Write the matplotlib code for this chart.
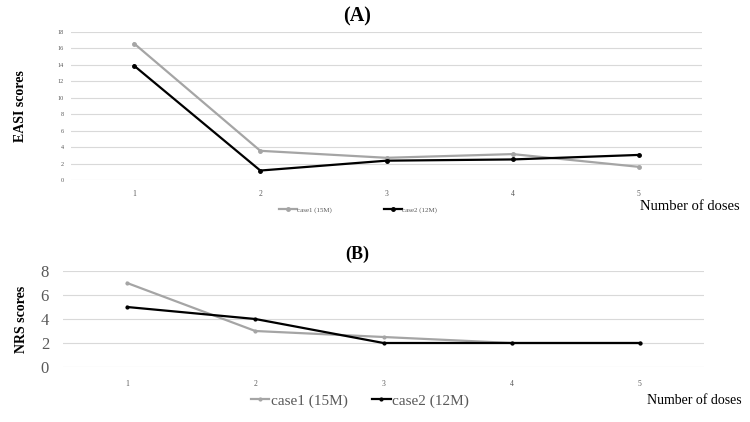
import matplotlib.pyplot as plt

plt.rcParams['font.family'] = ['Liberation Serif', 'DejaVu Serif']

doses = ["1", "2", "3", "4", "5"]
easi_case1 = [16.6, 3.55, 2.7, 3.15, 1.6]
easi_case2 = [13.9, 1.15, 2.35, 2.5, 3.05]
nrs_case1 = [7, 3, 2.5, 2, 2]
nrs_case2 = [5, 4, 2, 2, 2]
labels = ["case1 (15M)", "case2 (12M)"]

c_gray = '#A5A5A5'
c_black = '#000000'
c_grid = '#D9D9D9'
c_tick = '#595959'

fig = plt.figure(figsize=(7.5, 4.22), dpi=100)

def style(ax, ymax, ystep, ytick_size, ypad, xpad):
    x = range(len(doses))
    ax.set_xlim(-0.5, len(doses) - 0.5)
    ax.set_ylim(0, ymax)
    ax.set_yticks(range(0, ymax + 1, ystep))
    ax.set_xticks(list(x))
    ax.set_xticklabels(doses)
    ax.grid(axis='y', color=c_grid, linewidth=0.8)
    ax.set_axisbelow(True)
    for s in ax.spines.values():
        s.set_visible(False)
    ax.tick_params(axis='both', length=0, colors=c_tick)
    ax.tick_params(axis='y', labelsize=ytick_size, pad=ypad)
    ax.tick_params(axis='x', labelsize=5.5, pad=xpad)

# (A) EASI
ax1 = fig.add_axes([71 / 750, 1 - 180 / 422, 631 / 750, 148 / 422])
x = range(len(doses))
l1, = ax1.plot(x, easi_case1, color=c_gray, marker='o', markersize=2.5, linewidth=1.6, label=labels[0])
l2, = ax1.plot(x, easi_case2, color=c_black, marker='o', markersize=2.5, linewidth=1.6, label=labels[1])
style(ax1, 18, 2, 4.5, 5, 7)
ax1.set_ylabel("EASI scores", fontsize=10, fontweight='bold', labelpad=22)
fig.text(357 / 750, 1 - 16 / 422, "(A)", fontsize=14.5, fontweight='bold', ha='center', va='center')
fig.legend(handles=[l1, l2], loc='center', bbox_to_anchor=(358 / 750, 1 - 210 / 422),
           ncol=2, frameon=False, fontsize=5, handlelength=2.6, handletextpad=0.1,
           columnspacing=7.4, labelcolor=c_tick)
fig.text(740 / 750, 1 - 206 / 422, "Number of doses", fontsize=10.5, ha='right', va='center')

# (B) NRS
ax2 = fig.add_axes([63 / 750, 1 - 367 / 422, 641 / 750, 96 / 422])
l3, = ax2.plot(x, nrs_case1, color=c_gray, marker='o', markersize=2, linewidth=1.6, label=labels[0])
l4, = ax2.plot(x, nrs_case2, color=c_black, marker='o', markersize=2, linewidth=1.6, label=labels[1])
style(ax2, 8, 2, 12, 10, 9)
ax2.set_ylabel("NRS scores", fontsize=10, fontweight='bold', labelpad=9)
fig.text(357 / 750, 1 - 254 / 422, "(B)", fontsize=13, fontweight='bold', ha='center', va='center')
fig.legend(handles=[l3, l4], loc='center', bbox_to_anchor=(360 / 750, 1 - 401 / 422),
           ncol=2, frameon=False, fontsize=11, handlelength=1.2, handletextpad=0.1,
           columnspacing=1.6, labelcolor=c_tick)
fig.text(742 / 750, 1 - 400 / 422, "Number of doses", fontsize=10, ha='right', va='center')

fig.savefig("out.png", dpi=100)
